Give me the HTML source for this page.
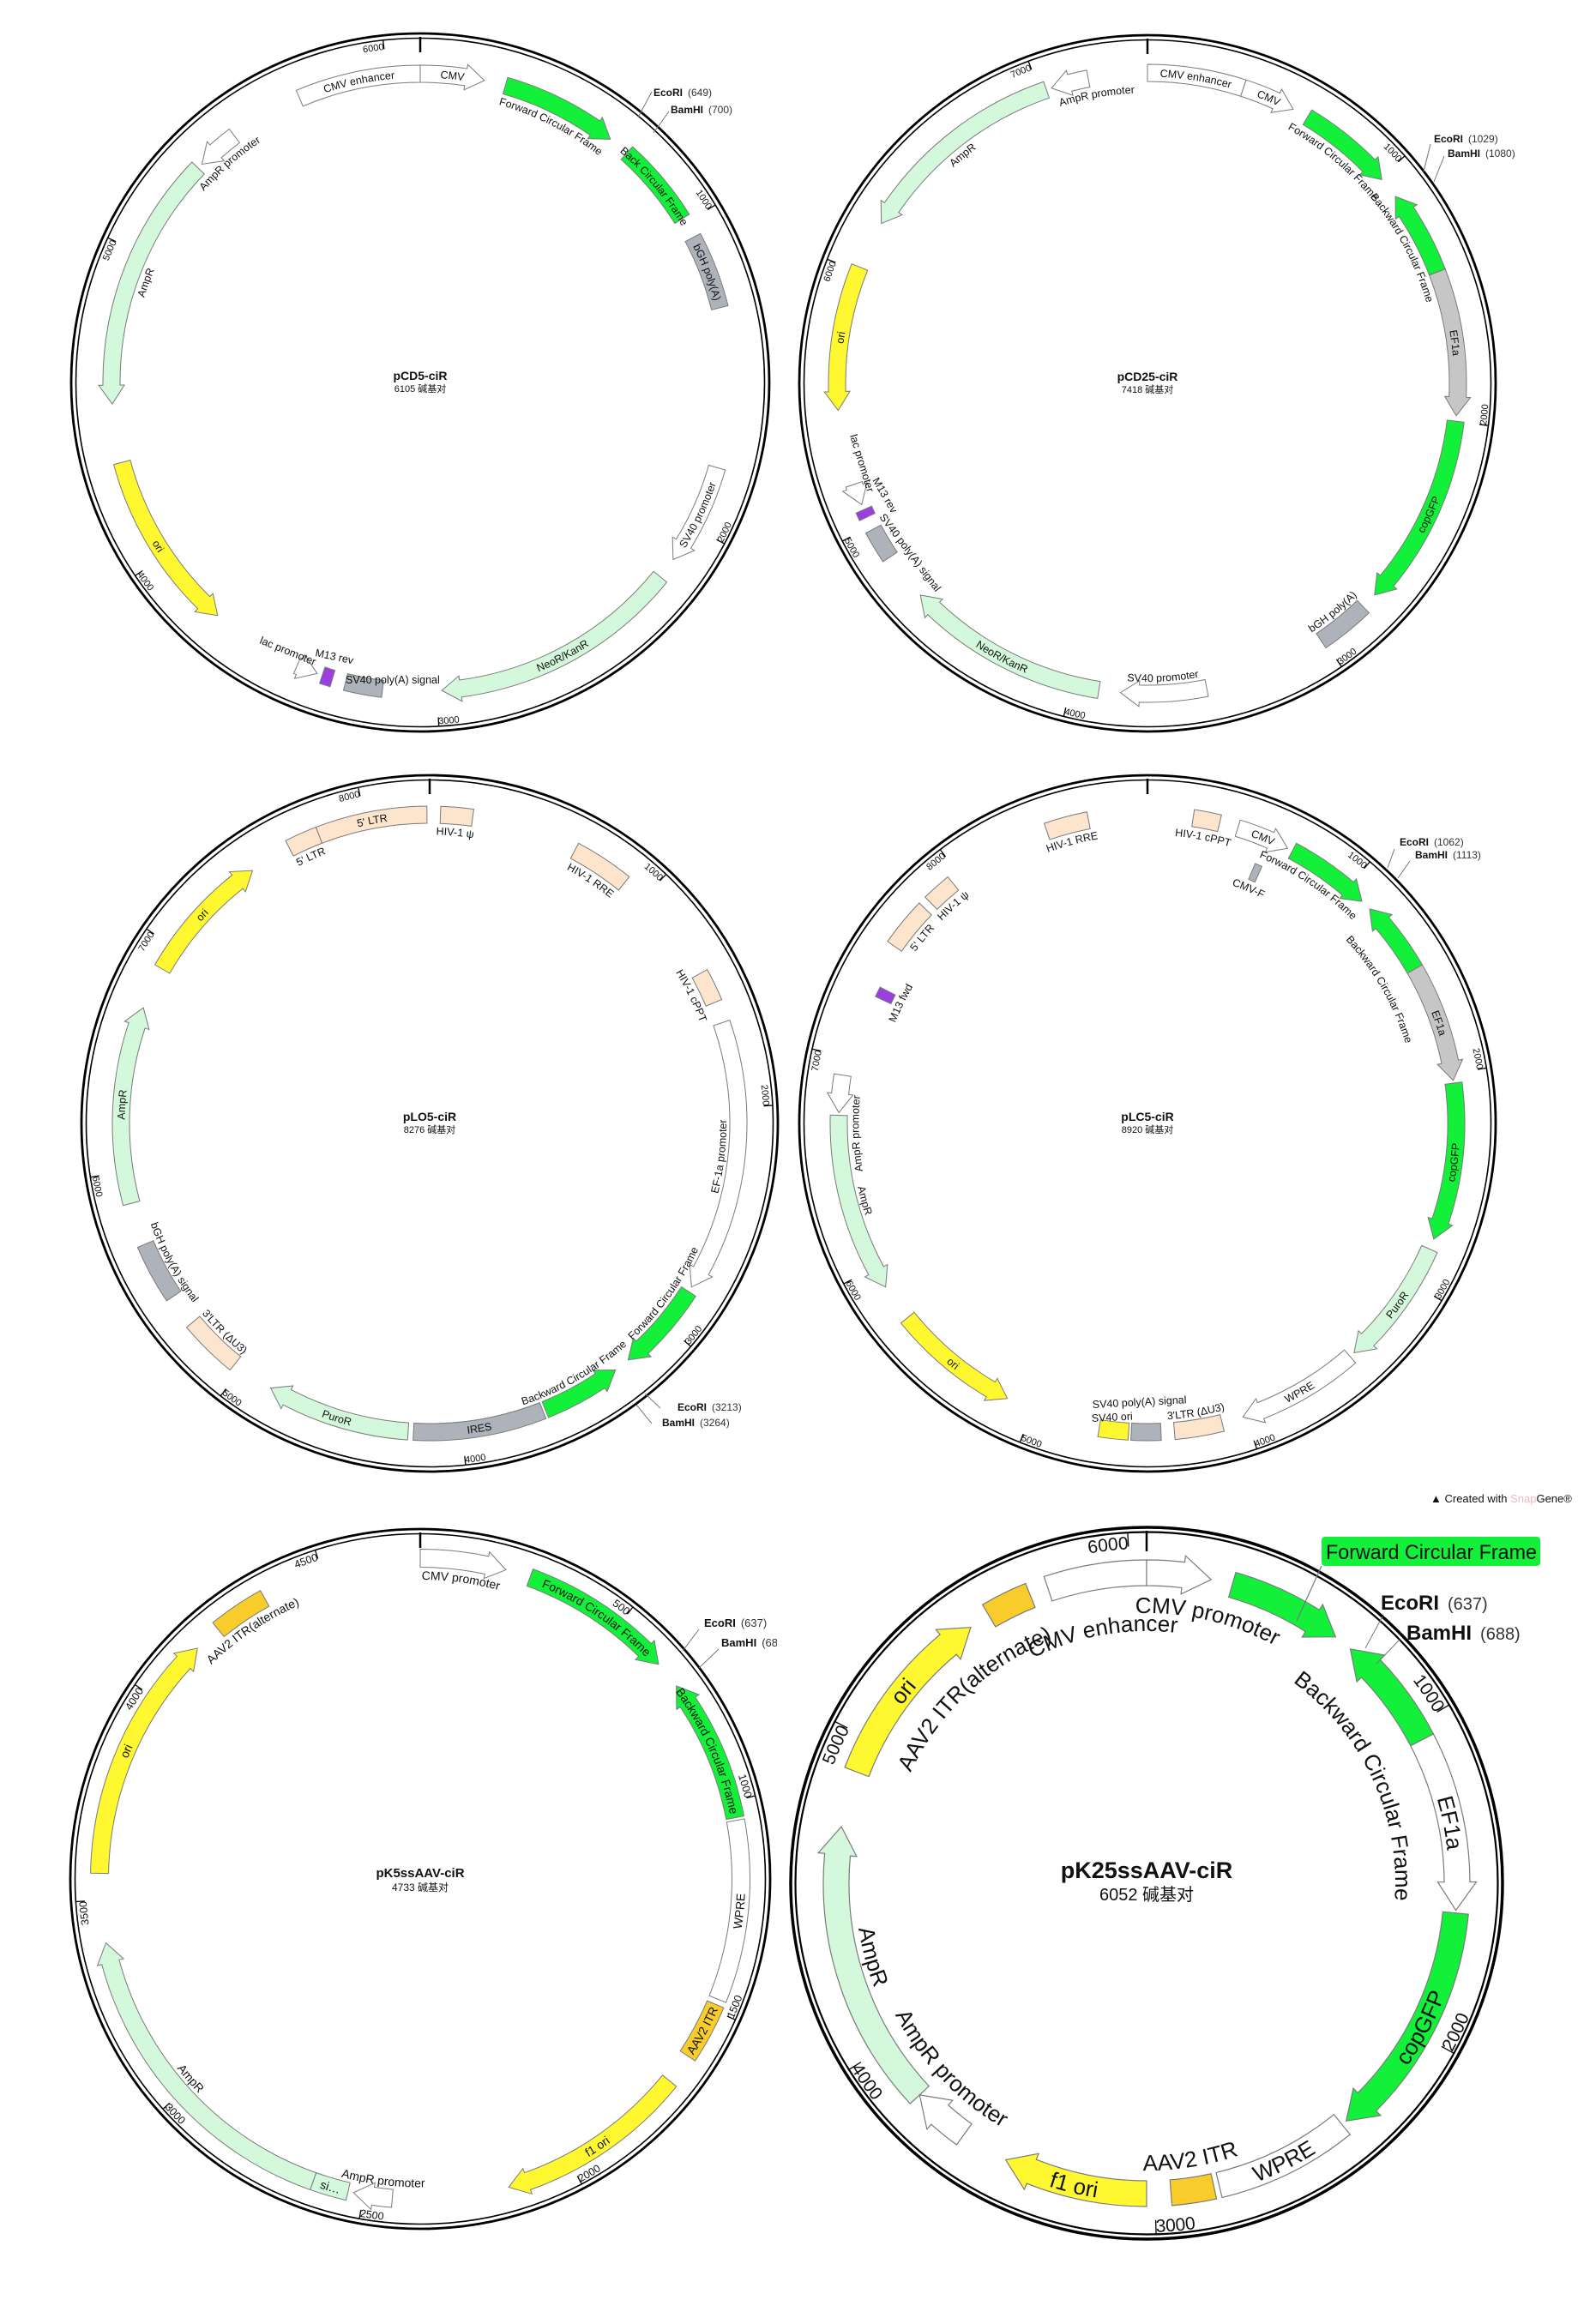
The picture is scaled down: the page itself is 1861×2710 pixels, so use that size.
<!DOCTYPE html>
<html><head><meta charset="utf-8">
<style>
html,body{margin:0;padding:0;background:#fff;}
svg{display:block;}
text{font-family:"Liberation Sans","Noto Sans CJK SC",sans-serif;fill:#111;}
</style></head>
<body>
<svg id="s" xmlns="http://www.w3.org/2000/svg" width="1861" height="2710" viewBox="0 0 1861 2710"></svg>
<script>
const W='#ffffff',G='#12f03a',LG='#d4f8db',Y='#fff830',GR='#aeb2ba',GR2='#c6c6c6',BE='#fde4cc',OR='#f8cc2a',PU='#9b3fe0';
let out='';let pid=0;
function P(m,r,a){const t=a*Math.PI/180;return [(m.cx+r*Math.sin(t)).toFixed(2),(m.cy-r*Math.cos(t)).toFixed(2)];}
function A(m,r,a,sw,big){const p=P(m,r,a);return `A${r} ${r} 0 ${big} ${sw} ${p[0]} ${p[1]}`;}
function L(m,r,a){const p=P(m,r,a);return `L${p[0]} ${p[1]}`;}
function M(m,r,a){const p=P(m,r,a);return `M${p[0]} ${p[1]}`;}
function norm(a){return ((a%360)+360)%360;}
function arcText(m,r,am,txt,fs,opt){
  opt=opt||{};
  const bottom=norm(am)>95&&norm(am)<265;
  const id='p'+(pid++);
  let d;
  if(!bottom){d=M(m,r,am-170)+A(m,r,am+170,1,1);}
  else{d=M(m,r,am+170)+A(m,r,am-170,0,1);}
  out+=`<path id="${id}" d="${d}" fill="none" stroke="none"/>`;
  out+=`<text font-size="${fs}"><textPath href="#${id}" startOffset="50%" text-anchor="middle">${txt}</textPath></text>`;
}
function feature(m,f){
  let [a1,a2,dir,fill,label,lt,rr,lam,lr]=f;
  if(a2<a1)a2+=360;
  const rf=rr||m.rf,w=m.w,hw=w/2,H=hw*1.5;
  const span=a2-a1;
  let hd=(w*1.1)/rf*180/Math.PI; if(hd>span*0.9)hd=span*0.9;
  const big=span>180?1:0;
  let d;
  if(dir===1){const b=a2-hd;d=M(m,rf+hw,a1)+A(m,rf+hw,b,1,big)+L(m,rf+H,b)+L(m,rf,a2)+L(m,rf-H,b)+L(m,rf-hw,b)+A(m,rf-hw,a1,0,big)+'Z';}
  else if(dir===-1){const b=a1+hd;d=M(m,rf,a1)+L(m,rf+H,b)+L(m,rf+hw,b)+A(m,rf+hw,a2,1,big)+L(m,rf-hw,a2)+A(m,rf-hw,b,0,big)+L(m,rf-H,b)+'Z';}
  else{d=M(m,rf+hw,a1)+A(m,rf+hw,a2,1,big)+L(m,rf-hw,a2)+A(m,rf-hw,a1,0,big)+'Z';}
  out+=`<path d="${d}" fill="${fill}" stroke="#7a7a7a" stroke-width="${m.sw||1}"/>`;
  if(!label)return;
  const am=(lam!==undefined&&lam!==null)?lam:(a1+a2)/2;
  const fs=m.fs,bottom=norm(am)>95&&norm(am)<265,gap=m.gap||4;
  let rb;
  if(lr){rb=lr;}
  else if(lt==='f'){rb=bottom?rf+0.36*fs:rf-0.36*fs;}
  else if(lt==='i'){rb=bottom?rf-hw-gap:rf-hw-gap-0.75*fs;}
  else {rb=bottom?rf+hw+gap+0.75*fs:rf+hw+gap;}
  arcText(m,rb,am,label,fs);
}
function drawMap(m){
  out+=`<circle cx="${m.cx}" cy="${m.cy}" r="${m.R}" fill="none" stroke="#000" stroke-width="${m.o||2.8}"/>`;
  out+=`<circle cx="${m.cx}" cy="${m.cy}" r="${m.R-5.5}" fill="none" stroke="#000" stroke-width="${m.i||1.6}"/>`;
  out+=`<line x1="${m.cx}" y1="${m.cy-m.R+4}" x2="${m.cx}" y2="${m.cy-m.R+(m.tm||22)}" stroke="#000" stroke-width="${m.tmw||2.5}"/>`;
  for(let k=m.step;k<m.len;k+=m.step){
    const a=k/m.len*360;const p1=P(m,m.R-6,a),p2=P(m,m.R-(m.tl||16),a);
    out+=`<line x1="${p1[0]}" y1="${p1[1]}" x2="${p2[0]}" y2="${p2[1]}" stroke="#000" stroke-width="1.3"/>`;
    const bottom=norm(a)>95&&norm(a)<265;
    const tf=m.tf;
    const r=bottom?m.R-8:m.R-8-0.8*tf;
    const id='p'+(pid++);
    let d;
    if(!bottom){d=M(m,r,a-120)+A(m,r,a,1,0);
      out+=`<path id="${id}" d="${d}" fill="none"/><text font-size="${tf}"><textPath href="#${id}" startOffset="100%" text-anchor="end">${k}</textPath></text>`;}
    else{d=M(m,r,a)+A(m,r,a-120,0,0);
      out+=`<path id="${id}" d="${d}" fill="none"/><text font-size="${tf}"><textPath href="#${id}" startOffset="0" text-anchor="start">${k}</textPath></text>`;}
  }
  m.feats.forEach(f=>feature(m,f));
  out+=`<text x="${m.cx}" y="${m.cy+(m.ty||-3)}" font-size="${m.tfs||14}" font-weight="bold" text-anchor="middle">${m.name}</text>`;
  out+=`<text x="${m.cx}" y="${m.cy+(m.sy||11)}" font-size="${m.sfs||11}" text-anchor="middle" fill="#333">${m.len} 碱基对</text>`;
  (m.extra||[]).forEach(e=>{out+=e;});
}
function st(x,y,t,fs,rot,extra){return `<text x="${x}" y="${y}" font-size="${fs}" ${rot?`transform="rotate(${rot} ${x} ${y})"`:''} ${extra||''}>${t}</text>`;}
function site(x1,y1,x2,y2,tx,ty,name,num,fs,gap,nfs){
  return `<line x1="${x1}" y1="${y1}" x2="${x2}" y2="${y2}" stroke="#777" stroke-width="1"/><text x="${tx}" y="${ty}" font-size="${fs}"><tspan font-weight="bold">${name}</tspan><tspan dx="${gap}" fill="#333" ${nfs?`font-size="${nfs}"`:''}>${num}</tspan></text>`;
}
const maps=[
{cx:490,cy:446,R:407,rf:360,w:20,fs:12.5,tf:11,name:'pCD5-ciR',len:6105,step:1000,
 feats:[[-23,0,0,W,'CMV enhancer','f'],[0,12,1,W,'CMV','f'],[16,38,1,G,'Forward Circular Frame','i'],[42,58,0,G,'Back Circular Frame','f'],[62,76,0,GR,'bGH poly(A)','f'],[106,125,1,W,'SV40 promoter','f'],[129,176,1,LG,'NeoR/KanR','f'],[187,194,0,GR,'',''],[196.5,198.5,0,PU,'',''],[199.5,203.5,-1,W,'',''],[221,255,-1,Y,'ori','f'],[266,314,-1,LG,'AmpR','i'],[315,323,-1,W,'AmpR promoter','i']],
 extra:[st(403,797,'SV40 poly(A) signal',12.5),st(367,765,'M13 rev',12.5,12),st(302,750,'lac promoter',12.5,22),
   site(744,137,760,107,762,112,'EcoRI','(649)',12,6),site(762,155,780,130,782,132,'BamHI','(700)',12,6)]},
{cx:1338,cy:447,R:406,rf:362,w:20,fs:12.5,tf:11,name:'pCD25-ciR',len:7418,step:1000,
 feats:[[0,18,0,W,'CMV enhancer','f'],[18,28,1,W,'CMV','f'],[31,49,1,G,'Forward Circular Frame','i'],[53,69,-1,G,'Backward Circular Frame','i',null,62],[69,96,1,GR2,'EF1a','f'],[97,133,1,G,'copGFP','f'],[136,146,0,GR,'bGH poly(A)','i'],[169,185,1,W,'SV40 promoter','i'],[189,227,1,LG,'NeoR/KanR','f'],[236,242,0,GR,'',''],[244.5,246,0,PU,'',''],[247,251,-1,W,'',''],[265,292,-1,Y,'ori','f'],[301,341,-1,LG,'AmpR','i'],[342,349,-1,W,'AmpR promoter','i',null,350]],
 extra:[st(991,508,'lac promoter',12.5,73),st(1017,560,'M13 rev',12.5,60),st(1025,603,'SV40 poly(A) signal',12.5,53),
   site(1660,200,1668,168,1672,166,'EcoRI','(1029)',12,6),site(1672,212,1684,182,1688,183,'BamHI','(1080)',12,6)]},
{cx:501,cy:1310,R:406,rf:360,w:20,fs:12.5,tf:11,name:'pLO5-ciR',len:8276,step:1000,
 feats:[[333,339,0,BE,"5' LTR",'i'],[339,359.5,0,BE,"5' LTR",'f'],[2,8,0,BE,'HIV-1 ψ','i'],[28,39,0,BE,'HIV-1 RRE','i'],[61,67,0,BE,'HIV-1 cPPT','i'],[71,122,1,W,'EF-1a promoter','i'],[123,140,1,G,'Forward Circular Frame','i',null,126],[143,158,-1,G,'Backward Circular Frame','i',null,150],[158.5,183,0,GR,'IRES','f'],[184,211,1,LG,'PuroR','f'],[219,230,0,BE,"3'LTR (ΔU3)",'i'],[236,247,0,GR,'bGH poly(A) signal','i'],[255,292,1,LG,'AmpR','f'],[300,325,1,Y,'ori','f']],
 extra:[site(752,1625,770,1642,790,1645,'EcoRI','(3213)',12,6),site(742,1638,760,1660,772,1663,'BamHI','(3264)',12,6)]},
{cx:1338,cy:1310,R:406,rf:360,w:20,fs:12.5,tf:11,name:'pLC5-ciR',len:8920,step:1000,
 feats:[[341,349,0,BE,'HIV-1 RRE','i'],[8.5,13.5,0,BE,'HIV-1 cPPT','i'],[17,27,1,W,'CMV','f'],[28,44,1,G,'Forward Circular Frame','i',null,34],[46,60,-1,G,'Backward Circular Frame','i',null,60,315],[60,82,1,GR2,'EF1a','f'],[82.5,112,1,G,'copGFP','f'],[114,138,1,LG,'PuroR','f'],[139,162,1,W,'WPRE','f'],[166,175,0,BE,"3'LTR (ΔU3)",'i'],[177.5,183,0,GR,'',''],[183.5,189,0,Y,'',''],[207,231,-1,Y,'ori','f'],[238,271.5,-1,LG,'AmpR','i'],[272,279,-1,W,'AmpR promoter','i',null,268],[305,314,0,BE,"5' LTR",'i'],[315.5,321,0,BE,'HIV-1 ψ','i'],[295,297,0,PU,'M13 fwd','i',340],[22.5,24,0,GR,'CMV-F','i',318]],
 extra:[st(1274,1642,'SV40 poly(A) signal',12.5,-3),st(1273,1658,'SV40 ori',12.5,-3),
   site(1618,1012,1626,990,1632,986,'EcoRI','(1062)',12,6),site(1630,1024,1644,1004,1650,1001,'BamHI','(1113)',12,6)]},
{cx:490,cy:2191,R:408,rf:374,w:21,fs:14,tf:12.5,name:'pK5ssAAV-ciR',len:4733,step:500,tfs:15,sfs:12,sy:14,ty:-2,
 feats:[[0,15.5,1,W,'CMV promoter','i'],[20,48,1,G,'Forward Circular Frame','f'],[53,79,-1,G,'Backward Circular Frame','f'],[79.5,112,0,W,'WPRE','f'],[113,123.5,0,OR,'AAV2 ITR','f'],[129,164,1,Y,'f1 ori','f'],[185,192,1,W,'AmpR promoter','i',null,187],[193,199.5,0,LG,'si…','f'],[199.5,258.5,1,LG,'AmpR','i'],[271,316,1,Y,'ori','f'],[321,331,0,OR,'AAV2 ITR(alternate)','i']],
 extra:[`<clipPath id="cl5"><rect x="0" y="1850" width="906" height="100"/></clipPath>`,
   `<g clip-path="url(#cl5)">`+site(796,1925,815,1900,821,1897,'EcoRI','(637)',13,6)+site(815,1945,838,1923,841,1920,'BamHI','(688)',13,6)+`</g>`]},
{cx:1337,cy:2196,R:415,rf:362,w:30,fs:26,tf:21,gap:6,sw:1.2,name:'pK25ssAAV-ciR',len:6052,step:1000,tfs:27,sfs:20,ty:-6,sy:20,tm:28,tl:22,o:3.5,i:2.2,
 feats:[[341.5,0,0,W,'CMV enhancer','i',null,350,294],[0,12,1,W,'CMV promoter','i',null,13,315],[16,37.5,1,G,'',''],[41,62.5,-1,G,'Backward Circular Frame','i',null,65,290],[62.5,95,1,W,'EF1a','f'],[95.5,140,1,G,'copGFP','f'],[141,166.5,0,W,'WPRE','f'],[167.5,175.5,0,OR,'AAV2 ITR','i',null,171,335],[180,207,1,Y,'f1 ori','f'],[216,227,1,W,'AmpR promoter','i',null,226.5,331],[227,280.5,1,LG,'AmpR','i',null,255,340],[291,325.5,1,Y,'ori','f'],[329.5,338,0,OR,'AAV2 ITR(alternate)','i',null,317,304]],
 extra:[`<line x1="1512" y1="1890" x2="1541" y2="1826" stroke="#777" stroke-width="1.2"/>`,
   `<rect x="1541" y="1792" width="255" height="34" rx="4" fill="#12f03a"/>`,
   `<text x="1546" y="1818" font-size="24" textLength="246" lengthAdjust="spacingAndGlyphs">Forward Circular Frame</text>`,
   site(1592,1922,1612,1885,1610,1877,'EcoRI','(637)',24,10,20),
   site(1605,1940,1632,1912,1640,1912,'BamHI','(688)',24,10,20),
   `<text x="1668" y="1752" font-size="13" fill="#c9d2da">▲ Created with <tspan fill="#f0b8c0">Snap</tspan>Gene®</text>`]}
];
maps.forEach(drawMap);
document.getElementById('s').innerHTML=out;
</script>
</body></html>
